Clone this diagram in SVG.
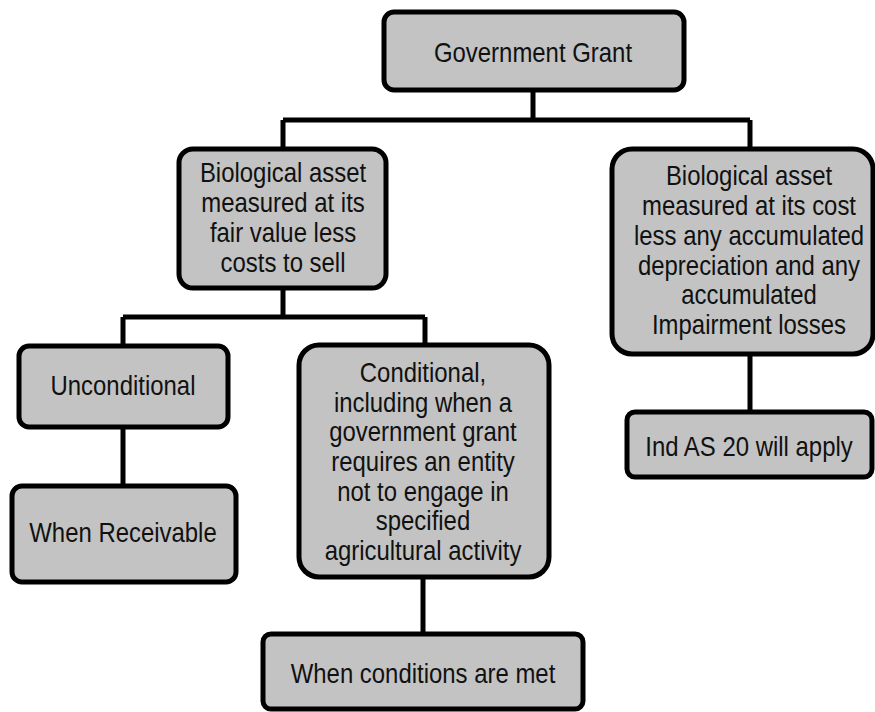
<svg xmlns="http://www.w3.org/2000/svg" width="875" height="712" viewBox="0 0 875 712">
<style>
.box{fill:#c3c3c3;stroke:#000;stroke-width:5}
.t{font-family:"Liberation Sans",Arial,sans-serif;font-size:28.5px;fill:#111;text-anchor:middle}
.c{fill:none;stroke:#000;stroke-width:5}
</style>
<rect width="875" height="712" fill="#fff"/>
<g id="connectors">
<path class="c" d="M533 90V120M283 120H750M283 120V147M750 120V147"/>
<path class="c" d="M283 288V317M123 317H425M123 317V344M425 317V344"/>
<path class="c" d="M123 428V484"/>
<path class="c" d="M423 578V632"/>
<path class="c" d="M750 355V410"/>
</g>
<g id="grant">
<rect class="box" x="384" y="12" width="300" height="78" rx="10"/>
<text class="t" transform="translate(533 62) scale(0.84 1)">Government Grant</text>
</g>
<g id="bio-fair">
<rect class="box" x="179" y="149" width="207" height="139" rx="14"/>
<text class="t" transform="translate(283 182) scale(0.84 1)">Biological asset</text>
<text class="t" transform="translate(283 212) scale(0.84 1)">measured at its</text>
<text class="t" transform="translate(283 242) scale(0.84 1)">fair value less</text>
<text class="t" transform="translate(283 272) scale(0.84 1)">costs to sell</text>
</g>
<g id="bio-cost">
<rect class="box" x="612" y="149" width="261" height="205" rx="20"/>
<text class="t" transform="translate(749 185) scale(0.84 1)">Biological asset</text>
<text class="t" transform="translate(749 215) scale(0.84 1)">measured at its cost</text>
<text class="t" transform="translate(749 245) scale(0.84 1)">less any accumulated</text>
<text class="t" transform="translate(749 275) scale(0.84 1)">depreciation and any</text>
<text class="t" transform="translate(749 304) scale(0.84 1)">accumulated</text>
<text class="t" transform="translate(749 334) scale(0.84 1)">Impairment losses</text>
</g>
<g id="unconditional">
<rect class="box" x="19" y="346" width="209" height="81" rx="10"/>
<text class="t" transform="translate(123 395) scale(0.84 1)">Unconditional</text>
</g>
<g id="receivable">
<rect class="box" x="12" y="486" width="224" height="96" rx="10"/>
<text class="t" transform="translate(123 542) scale(0.84 1)">When Receivable</text>
</g>
<g id="conditional">
<rect class="box" x="299" y="345" width="250" height="232" rx="20"/>
<text class="t" transform="translate(423 382) scale(0.84 1)">Conditional,</text>
<text class="t" transform="translate(423 412) scale(0.84 1)">including when a</text>
<text class="t" transform="translate(423 441) scale(0.84 1)">government grant</text>
<text class="t" transform="translate(423 471) scale(0.84 1)">requires an entity</text>
<text class="t" transform="translate(423 501) scale(0.84 1)">not to engage in</text>
<text class="t" transform="translate(423 530) scale(0.84 1)">specified</text>
<text class="t" transform="translate(423 560) scale(0.84 1)">agricultural activity</text>
</g>
<g id="conditions-met">
<rect class="box" x="263" y="634" width="320" height="75" rx="8"/>
<text class="t" transform="translate(423 683) scale(0.84 1)">When conditions are met</text>
</g>
<g id="ind-as">
<rect class="box" x="627" y="412" width="245" height="65" rx="8"/>
<text class="t" transform="translate(749 456) scale(0.84 1)">Ind AS 20 will apply</text>
</g>
</svg>
